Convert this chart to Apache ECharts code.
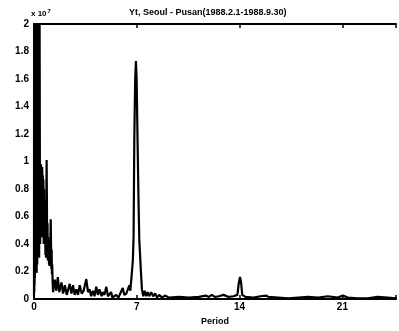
<!DOCTYPE html>
<html lang="en">
<head>
    <meta charset="UTF-8">
    <title>Yt, Seoul - Pusan</title>
    <script src="https://cdn.jsdelivr.net/npm/echarts@6/dist/echarts.min.js"></script>
    <style>
        html, body { margin: 0; padding: 0; background: #fff; }
        #chart { width: 399px; height: 331px; }
    </style>
</head>
<body>
<div id="chart"></div>
<script>
// period axis (x) and power in units of 10^7 (y)
var periods = [
    0, 0.01, 0.02, 0.03, 0.04, 0.05, 0.06, 0.07, 0.08, 0.09, 0.10, 0.11, 0.12, 0.13, 0.14,
    0.15, 0.16, 0.17, 0.18, 0.19, 0.20, 0.21, 0.22, 0.23, 0.24, 0.25, 0.26, 0.27, 0.28,
    0.29, 0.30, 0.31, 0.32, 0.33, 0.34, 0.35, 0.36, 0.37, 0.38, 0.40,
    0.42, 0.44, 0.46, 0.48, 0.50, 0.52, 0.54, 0.56, 0.58, 0.60, 0.62, 0.64, 0.66, 0.68,
    0.70, 0.72, 0.74, 0.76, 0.78, 0.80, 0.82, 0.84, 0.86, 0.88, 0.90, 0.92, 0.94, 0.96,
    0.98, 1.00, 1.02, 1.04, 1.06, 1.08, 1.10, 1.12, 1.14, 1.16, 1.18, 1.20, 1.22, 1.24,
    1.27, 1.30,
    1.42, 1.52, 1.62, 1.72, 1.87, 1.98, 2.10, 2.23, 2.43, 2.55, 2.66, 2.77, 2.89, 3.00,
    3.11, 3.25, 3.38, 3.56, 3.68, 3.79, 3.89, 4.01, 4.12, 4.24, 4.35, 4.46, 4.60, 4.70,
    4.80, 4.92, 5.04, 5.14, 5.25, 5.34, 5.59, 5.75, 5.88, 6.04, 6.15, 6.29, 6.49, 6.56,
    6.67, 6.73, 6.78, 6.83, 6.89, 6.94, 6.99, 7.05, 7.12, 7.17, 7.28, 7.35, 7.44,
    7.54, 7.64, 7.74, 7.84, 7.98, 8.11, 8.25, 8.38, 8.52, 8.72, 8.92, 9.20,
    9.87, 10.55, 11.22, 11.70, 11.90, 12.10, 12.31, 12.58, 12.91, 13.25, 13.59, 13.85,
    13.95, 14.03, 14.10, 14.18, 14.40, 14.94, 15.42, 15.82, 15.96, 16.63, 17.31, 17.98,
    18.66, 19.34, 20.01, 20.69, 21.03, 21.37, 22.04, 22.72, 23.39, 24.07, 24.68
];
var power = [
    0.02, 2.5, 0.05, 2.8, 0.1, 3.0, 0.15, 2.9, 0.2, 3.0, 0.2, 2.8, 0.25, 3.1, 0.2,
    2.9, 0.25, 3.0, 0.2, 2.8, 0.3, 2.7, 0.25, 2.9, 0.3, 2.6, 0.3, 2.8, 0.35,
    1.5, 2.6, 0.3, 2.5, 0.35, 2.4, 0.3, 2.3, 0.4, 2.1, 0.99,
    0.40, 0.97, 0.45, 0.98, 0.50, 0.95, 0.45, 0.96, 0.50, 0.90, 0.45, 0.87, 0.40, 0.80,
    0.45, 0.72, 0.40, 0.55, 0.32, 0.45, 0.30, 0.75, 1.01, 0.70, 0.30, 0.55, 0.28, 0.45,
    0.28, 0.42, 0.25, 0.40, 0.24, 0.35, 0.25, 0.45, 0.58, 0.40, 0.22, 0.36, 0.18, 0.25,
    0.12, 0.05,
    0.14, 0.06, 0.16, 0.05, 0.12, 0.04, 0.10, 0.03, 0.11, 0.04, 0.10, 0.03, 0.07, 0.03,
    0.10, 0.04, 0.06, 0.145, 0.05, 0.07, 0.02, 0.06, 0.02, 0.09, 0.03, 0.07, 0.02, 0.05,
    0.03, 0.09, 0.02, 0.03, 0.05, 0.01, 0.03, 0.01, 0.02, 0.08, 0.03, 0.04, 0.10, 0.06,
    0.2, 0.28, 0.45, 1.16, 1.6, 1.73, 1.6, 1.16, 0.7, 0.43, 0.2, 0.07, 0.02,
    0.06, 0.02, 0.05, 0.02, 0.05, 0.02, 0.04, 0.01, 0.03, 0.01, 0.025, 0.01,
    0.015, 0.01, 0.015, 0.025, 0.015, 0.03, 0.015, 0.02, 0.03, 0.015, 0.02, 0.03,
    0.12, 0.16, 0.12, 0.03, 0.015, 0.01, 0.02, 0.025, 0.015, 0.01, 0.005, 0.01,
    0.015, 0.01, 0.02, 0.01, 0.025, 0.01, 0.005, 0.005, 0.015, 0.01, 0.005
];
var xTicks = [0, 7, 14, 21];
var yTicks = [0, 0.2, 0.4, 0.6, 0.8, 1, 1.2, 1.4, 1.6, 1.8, 2];

var FONT = 'Liberation Sans';
var chart = echarts.init(document.getElementById('chart'));

var data = periods.map(function (p, i) { return [p, power[i]]; });

var option = {
    backgroundColor: '#fff',
    animation: false,
    title: {
        text: 'Yt, Seoul - Pusan(1988.2.1-1988.9.30)',
        left: 124,
        top: 3,
        textStyle: { fontFamily: FONT, fontSize: 9, fontWeight: 'bold', color: '#000' }
    },
    graphic: [{
        type: 'text',
        left: 31,
        top: 8,
        style: {
            text: '{a|x 10}{s|7}',
            rich: {
                a: { fontFamily: FONT, fontSize: 8, fontWeight: 'bold', fill: '#000' },
                s: { fontFamily: FONT, fontSize: 6, fontWeight: 'bold', fill: '#000', verticalAlign: 'top', padding: [0, 0, 6, 1] }
            }
        }
    }],
    grid: { left: 34, right: 0, top: 24, bottom: 31 },
    xAxis: [{
        type: 'value',
        min: 0,
        max: 24.65,
        interval: 7,
        name: 'Period',
        nameLocation: 'middle',
        nameGap: 18,
        nameTextStyle: { fontFamily: FONT, fontSize: 9, fontWeight: 'bold', color: '#000' },
        axisLine: { lineStyle: { color: '#000', width: 2 } },
        axisTick: { inside: true, length: 4, lineStyle: { color: '#000', width: 1.5 } },
        axisLabel: {
            fontFamily: FONT, fontSize: 10, fontWeight: 'bold', color: '#000', margin: 3,
            formatter: function (v) { return xTicks.indexOf(v) >= 0 ? String(v) : ''; }
        },
        splitLine: { show: false }
    }, {
        type: 'value',
        position: 'top',
        min: 0,
        max: 24.65,
        interval: 7,
        axisLine: { lineStyle: { color: '#000', width: 2 } },
        axisTick: { inside: true, length: 4, lineStyle: { color: '#000', width: 1.5 } },
        axisLabel: { show: false },
        splitLine: { show: false }
    }],
    yAxis: {
        type: 'value',
        min: 0,
        max: 2,
        interval: 0.2,
        axisLine: { show: true, lineStyle: { color: '#000', width: 2 } },
        axisTick: { show: true, inside: true, length: 4, lineStyle: { color: '#000', width: 1.5 } },
        axisLabel: {
            fontFamily: FONT, fontSize: 10, fontWeight: 'bold', color: '#000', margin: 5,
            formatter: function (v) {
                var r = Math.round(v * 10) / 10;
                return yTicks.indexOf(r) >= 0 ? String(r) : '';
            }
        },
        splitLine: { show: false }
    },
    series: [{
        type: 'line',
        data: data,
        showSymbol: false,
        clip: true,
        lineStyle: { color: '#000', width: 2.2 }
    }]
};
chart.setOption(option);
</script>
</body>
</html>
